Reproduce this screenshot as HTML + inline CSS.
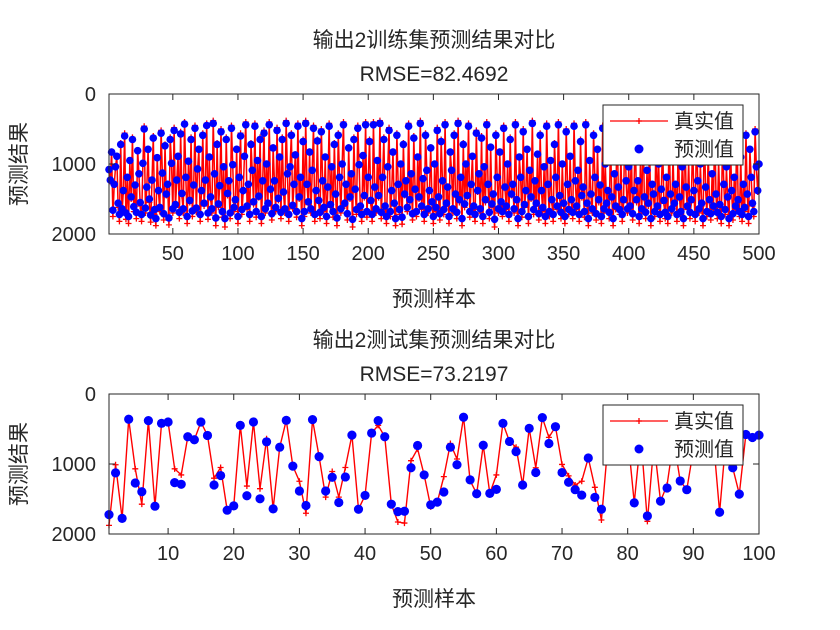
<!DOCTYPE html>
<html><head><meta charset="utf-8"><style>
body{margin:0;background:#fff}
svg{display:block}
text{font-family:"Liberation Sans","Noto Sans CJK SC",sans-serif;fill:#262626}
</style></head><body>
<svg id="fig" width="840" height="630" viewBox="0 0 840 630" xmlns="http://www.w3.org/2000/svg"></svg>
<script>
// ---- data: training set (500 samples) ----
const trainTrue = [
1100,1250,820,1750,1300,1050,880,1620,1820,700,1700,1400,560,1790,1200,1850,950,1500,620,1680,1320,1780,800,1150,1600,1820,1000,460,1700,1350,780,1550,1830,1250,600,1720,1880,900,1400,1680,520,1150,1800,720,1450,1300,1870,620,1000,1700,
480,1620,1250,880,1780,540,1450,1700,400,1200,1850,960,1550,620,1750,1320,450,1690,1080,780,1820,1400,560,1600,1250,420,1790,900,1500,1700,380,1150,1880,700,1620,1330,500,1760,1050,1900,620,1450,1250,1780,450,1020,1680,1550,780,1850,
1200,560,1720,1400,880,400,1650,1300,1820,700,1100,1580,420,1760,950,1480,620,1850,1250,520,1700,1000,1600,400,1380,1800,760,1250,1680,480,1520,900,1780,620,1420,1700,380,1150,1820,1050,560,1640,1300,860,1760,420,1500,1200,1880,650,
1750,380,1300,1580,820,1700,1100,450,1820,1400,650,1550,1780,500,1250,1680,900,1850,1350,420,1620,1050,1760,700,1450,1880,560,1200,1700,1000,400,1600,1300,1800,760,1500,1150,1900,620,1380,1720,450,1020,1650,1820,880,1480,400,1760,1200,
650,1560,1820,400,1350,1700,950,1480,380,1780,1200,620,1650,1850,1050,480,1750,1400,820,1600,1880,560,1300,1720,1000,1860,700,1450,1250,1680,420,1550,1150,1800,600,1380,1750,900,1500,380,1650,1220,1820,560,1100,1700,1400,760,1580,1850,
1000,1680,480,1500,1800,650,1250,1720,400,1600,1350,1850,820,1100,1700,560,1450,1780,380,1550,1200,1880,700,1620,1000,1480,420,1760,1300,880,1650,1820,520,1400,1150,1700,600,1850,1050,1550,400,1300,1780,750,1620,1450,1900,560,1200,1700,
820,1580,1750,450,1350,1650,1000,1820,620,1450,1300,1700,400,1550,1880,900,1200,1760,500,1620,1400,780,1850,1100,1500,380,1720,1250,1600,850,1800,560,1400,1680,1050,1850,420,1300,1750,950,1550,1820,700,1200,1650,400,1480,1780,1000,1600,
1850,500,1300,1720,880,1550,1780,420,1250,1650,1100,1820,650,1480,1350,1760,400,1600,1880,950,1450,1700,560,1200,1800,780,1550,1320,1850,450,1700,1000,1600,1400,1780,620,1500,1880,1150,1650,420,1350,1720,900,1820,1550,500,1250,1700,1050,
1650,780,1800,1400,560,1550,1250,1850,950,1700,420,1500,1780,1100,1600,650,1880,1300,1450,1750,500,1650,1000,1820,1380,700,1560,1780,1200,1850,480,1450,1700,880,1600,1300,1820,600,1500,1750,1050,1880,420,1350,1650,950,1780,1550,700,1400,
1820,560,1250,1700,1000,1600,1880,450,1350,1750,820,1550,1800,1150,1650,400,1450,1780,950,1620,1850,650,1300,1720,1050,1500,1880,600,1400,1800,1200,1650,420,1550,1750,900,1820,1300,1680,560,1450,1850,780,1200,1600,1750,500,1050,1400,1000];
const trainPred = [
1080,1230,830,1660,1290,1040,890,1560,1720,720,1640,1380,600,1700,1190,1750,950,1470,650,1610,1300,1690,810,1140,1550,1720,990,500,1630,1330,790,1500,1730,1230,630,1650,1780,910,1380,1620,560,1130,1710,740,1430,1290,1770,650,990,1640,
520,1580,1230,890,1690,570,1420,1640,430,1190,1750,960,1520,650,1670,1300,490,1630,1070,790,1720,1380,590,1560,1230,450,1700,900,1470,1640,420,1140,1770,720,1570,1310,540,1680,1040,1780,650,1420,1240,1700,490,1010,1620,1510,790,1750,
1190,600,1650,1380,890,440,1600,1290,1720,720,1090,1540,460,1680,950,1460,650,1750,1240,560,1640,1000,1560,440,1360,1710,770,1240,1620,520,1490,900,1690,650,1400,1640,420,1140,1720,1040,590,1590,1290,870,1680,460,1470,1190,1780,680,
1680,420,1290,1540,830,1640,1090,490,1720,1380,670,1520,1690,540,1240,1620,900,1750,1330,460,1580,1040,1680,720,1430,1770,590,1190,1640,1000,440,1560,1290,1710,770,1470,1140,1790,650,1360,1650,490,1010,1600,1720,880,1450,440,1680,1190,
680,1520,1720,440,1330,1640,950,1450,420,1690,1190,650,1600,1750,1040,520,1680,1380,830,1560,1780,590,1290,1650,1000,1760,720,1430,1240,1620,460,1510,1140,1710,630,1360,1680,900,1470,420,1600,1210,1720,590,1090,1640,1380,770,1540,1750,
1000,1620,520,1470,1710,680,1240,1650,440,1560,1330,1750,830,1090,1640,590,1430,1690,420,1510,1190,1780,720,1570,1000,1450,460,1680,1290,890,1600,1720,560,1380,1140,1640,630,1750,1040,1510,440,1290,1690,760,1570,1430,1790,590,1190,1640,
830,1540,1680,490,1330,1600,1000,1720,650,1430,1290,1640,440,1510,1780,900,1190,1680,540,1580,1380,790,1750,1090,1470,420,1650,1240,1560,860,1710,590,1380,1620,1040,1750,460,1290,1680,950,1510,1720,720,1190,1600,440,1450,1690,1000,1560,
1750,540,1290,1650,890,1510,1690,460,1240,1600,1090,1720,680,1450,1330,1680,440,1560,1780,950,1430,1640,590,1190,1710,790,1510,1300,1750,490,1640,1000,1560,1380,1690,650,1470,1780,1140,1600,460,1330,1650,900,1720,1510,540,1240,1640,1040,
1600,790,1710,1380,590,1510,1240,1750,950,1640,460,1470,1690,1090,1560,680,1780,1290,1430,1680,540,1600,1000,1720,1360,720,1520,1690,1190,1750,520,1430,1640,890,1560,1290,1720,630,1470,1680,1040,1780,460,1330,1600,950,1690,1510,720,1380,
1720,590,1240,1640,1000,1560,1780,490,1330,1680,830,1510,1710,1140,1600,440,1430,1690,950,1580,1750,680,1290,1650,1040,1470,1780,630,1380,1710,1190,1600,460,1510,1680,900,1720,1290,1620,590,1430,1750,790,1190,1560,1680,540,1040,1380,1000];
// ---- data: test set (100 samples) ----
const testTrue = [1877,1011,1777,361,1069,1574,380,1603,419,400,1069,1156,611,654,400,592,1203,1050,1660,1598,
448,1315,400,1353,640,1641,760,376,1030,1246,1704,366,895,1473,1107,1473,1050,587,1646,1449,
558,448,611,1574,1829,1844,953,784,1156,1612,1545,1180,707,929,332,1237,1425,732,1420,1156,
419,678,760,1300,491,1054,337,620,467,1006,1170,1300,1246,914,1333,1800,700,500,800,600,
1555,600,1819,700,1531,1300,650,1242,1367,800,500,900,600,1689,600,1054,1430,578,621,588];
const testPred = [1723,1127,1777,361,1271,1396,380,1603,419,400,1266,1290,611,654,400,592,1300,1165,1660,1598,
448,1454,400,1497,683,1641,760,376,1030,1386,1593,366,895,1386,1189,1550,1185,587,1646,1449,
558,380,611,1574,1680,1675,1054,736,1156,1583,1545,1400,760,1011,332,1227,1425,732,1420,1362,
419,678,823,1300,491,1122,337,707,467,1122,1261,1367,1444,914,1477,1646,700,500,800,600,
1555,600,1742,700,1531,1343,650,1242,1367,800,500,900,600,1689,600,1054,1430,578,621,588];
const yTicks = [0,1000,2000];
const trainXTicks = [50,100,150,200,250,300,350,400,450,500];
const testXTicks = [10,20,30,40,50,60,70,80,90,100];

const NS='http://www.w3.org/2000/svg';
const svg=document.getElementById('fig');
function mk(tag,attrs,parent){const e=document.createElementNS(NS,tag);for(const k in attrs)e.setAttribute(k,attrs[k]);(parent||svg).appendChild(e);return e;}

function panel(cfg){
  const g=mk('g',{});
  
  
  const L=109,R=759,T=cfg.top,B=cfg.top+140;
  const xs=v=>L+(v-1)/(cfg.n-1)*(R-L);
  const ys=v=>T+v/2000*(B-T);
  mk('rect',{x:L,y:T,width:R-L,height:B-T,fill:'#fff'},g);
  let d='';cfg.tru.forEach((v,i)=>{d+=(i?'L':'M')+xs(i+1).toFixed(2)+' '+ys(v).toFixed(2);});
  const ln=mk('path',{d:d,fill:'none',stroke:'#ff0000','stroke-width':cfg.lw},g);
  
  
  let pd='';cfg.tru.forEach((v,i)=>{const x=xs(i+1),y=ys(v);pd+=`M${x-3} ${y}h6M${x} ${y-3}v6`;});
  const pl=mk('path',{d:pd,stroke:'#ff0000','stroke-width':1.3,fill:'none'},g);
  
  
  cfg.pred.forEach((v,i)=>{
    const c=mk('circle',{cx:xs(i+1),cy:ys(v),r:cfg.r,fill:'#0000ff'},g);
    
    
  });
  mk('rect',{x:L,y:T,width:R-L,height:B-T,fill:'none',stroke:'#262626','stroke-width':1},g);
  cfg.xt.forEach(v=>{const x=xs(v);
    mk('line',{x1:x,y1:B,x2:x,y2:B-6,stroke:'#262626'},g);
    mk('line',{x1:x,y1:T,x2:x,y2:T+6,stroke:'#262626'},g);
    const t=mk('text',{x:x,y:B+26,'text-anchor':'middle','font-size':20},g);t.textContent=v;
    
    
  });
  yTicks.forEach(v=>{const y=ys(v);
    mk('line',{x1:L,y1:y,x2:L+6,y2:y,stroke:'#262626'},g);
    mk('line',{x1:R,y1:y,x2:R-6,y2:y,stroke:'#262626'},g);
    const t=mk('text',{x:L-13,y:y+7,'text-anchor':'end','font-size':20},g);t.textContent=v;
    
    
  });
  const t1=mk('text',{x:434,y:T-47,'text-anchor':'middle','font-size':21},g);t1.textContent=cfg.title;
  
  
  const t2=mk('text',{x:434,y:T-13,'text-anchor':'middle','font-size':21},g);t2.textContent=cfg.rmse;
  
  
  const xl=mk('text',{x:434,y:B+72,'text-anchor':'middle','font-size':21},g);xl.textContent='预测样本';
  
  
  const yl=mk('text',{x:0,y:0,'text-anchor':'middle','font-size':21,transform:`translate(26,${(T+B)/2}) rotate(-90)`},g);yl.textContent='预测结果';
  
  
  const lg=mk('g',{},g);
  
  
  const ly=T+11;
  mk('rect',{x:603,y:ly,width:140,height:60,fill:'#fff',stroke:'#262626','stroke-width':1},lg);
  mk('line',{x1:610,y1:ly+16,x2:668,y2:ly+16,stroke:'#ff0000','stroke-width':1.3},lg);
  mk('path',{d:`M636 ${ly+16}h6M639 ${ly+13}v6`,stroke:'#ff0000','stroke-width':1.3},lg);
  mk('circle',{cx:639,cy:ly+44,r:4.5,fill:'#0000ff'},lg);
  const e1=mk('text',{x:674,y:ly+23,'font-size':20,fill:'#000'},lg);e1.textContent='真实值';
  
  
  const e2=mk('text',{x:674,y:ly+51,'font-size':20,fill:'#000'},lg);e2.textContent='预测值';
  
  
}
panel({name:'train-chart',top:94,n:500,tru:trainTrue,pred:trainPred,xt:trainXTicks,r:3.8,lw:1.5,title:'输出2训练集预测结果对比',rmse:'RMSE=82.4692'});
panel({name:'test-chart',top:394,n:100,tru:testTrue,pred:testPred,xt:testXTicks,r:4.6,lw:1.4,title:'输出2测试集预测结果对比',rmse:'RMSE=73.2197'});
</script>
</body></html>
